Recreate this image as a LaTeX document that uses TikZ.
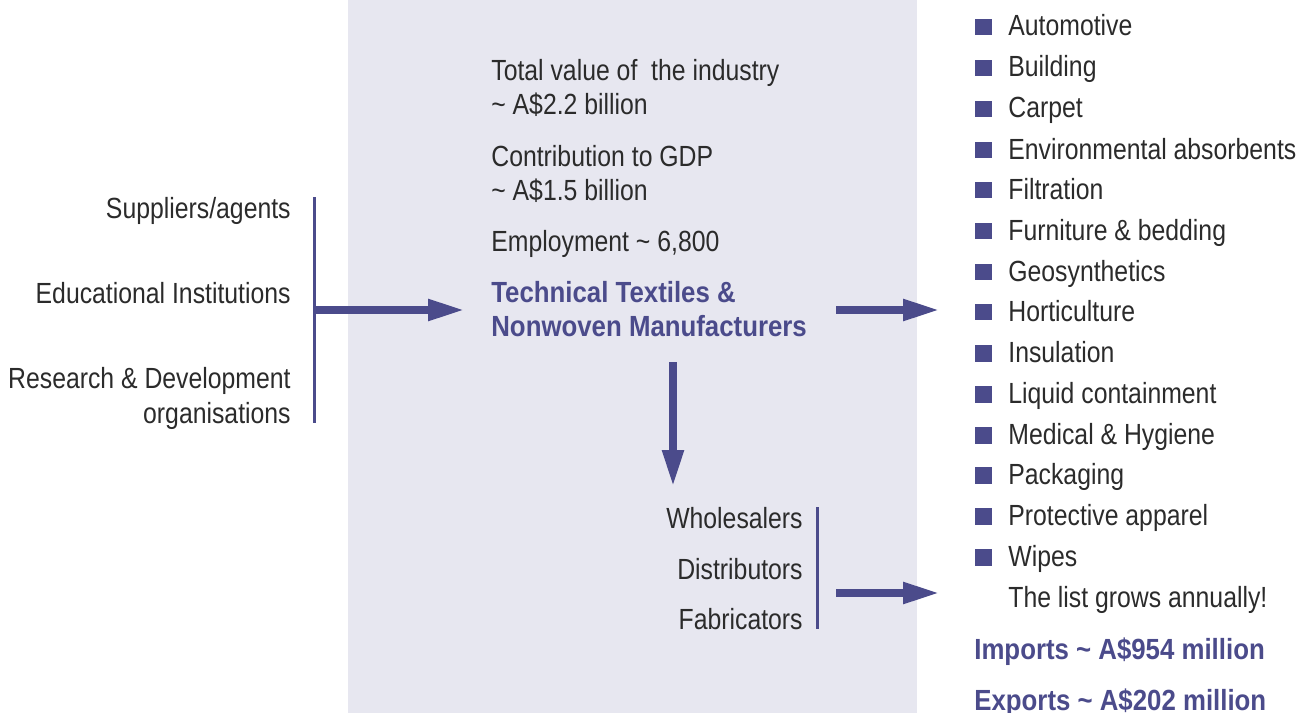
\documentclass[tikz,border=0pt]{standalone}
\usepackage{fontspec}
\setmainfont{Liberation Sans}[FakeStretch=0.85, BoldFeatures={FakeStretch=0.885}]
\usepackage{xcolor}
\usepackage{tikz}
\usetikzlibrary{arrows.meta}
\definecolor{textilecolor}{HTML}{4B4B8B}
\definecolor{panelcolor}{HTML}{E7E7F0}
\definecolor{inkcolor}{HTML}{2B2B2B}

\tikzset{
  txt/.style={inner sep=0pt, text=inkcolor, font=\fontsize{16.6pt}{19.3pt}\selectfont},
  hot/.style={txt, text=textilecolor, font=\fontsize{16.6pt}{19.3pt}\selectfont\bfseries},
  bullet/.style={rectangle, fill=textilecolor, inner sep=0pt, minimum size=0.34cm},
  bracket/.style={draw=textilecolor, line width=0.06cm},
  flowarrow/.style={draw=textilecolor, line width=0.16cm, -{Triangle[length=0.74cm, width=0.4cm]}},
}

\begin{document}
\begin{tikzpicture}[x=0.02cm, y=-0.02cm]%
\useasboundingbox (0,0) rectangle (1302,713);%
\fill[panelcolor] (348,0) rectangle (917,713);%
% sources
\node[txt, anchor=base east] (supp) at (291,218) {Suppliers/agents};%
\node[txt, anchor=base east] (edu) at (291,303) {Educational Institutions};%
\node[txt, anchor=base east, align=right, font=\fontsize{16.6pt}{19.9pt}\selectfont] (rnd) at (291,423) {Research \& Development\\organisations};%
\coordinate (lbartop) at (314,197);%
\coordinate (lbarbot) at (314,423);%
\coordinate (lbarmid) at (314,310);%
\draw[bracket] (lbartop) -- (lbarbot);%
% industry
\node[txt, anchor=base west, align=left] (total) at (491,114) {Total value of \ the industry\\\textasciitilde\ A\$2.2 billion};%
\node[txt, anchor=base west, align=left] (gdp) at (491,200) {Contribution to GDP\\\textasciitilde\ A\$1.5 billion};%
\node[txt, anchor=base west] (employ) at (491,251) {Employment \textasciitilde\ 6,800};%
\node[hot, anchor=base west, align=left] (mfr) at (491,336) {Technical Textiles \&\\Nonwoven Manufacturers};%
\coordinate (mfrin) at (465,310);%
\coordinate (mfrout) at (836,310);%
\coordinate (mfrdown) at (673,362);%
\coordinate (trade) at (673,487);%
\draw[flowarrow] (lbarmid) -- (mfrin);%
\draw[flowarrow] (mfrdown) -- (trade);%
% trade
\node[txt, anchor=base east] (whole) at (803,528) {Wholesalers};%
\node[txt, anchor=base east] (distr) at (803,579) {Distributors};%
\node[txt, anchor=base east] (fabr) at (803,629) {Fabricators};%
\coordinate (rbartop) at (817,507);%
\coordinate (rbarbot) at (817,629);%
\coordinate (rbarout) at (836,593);%
\draw[bracket] (rbartop) -- (rbarbot);%
% markets
\coordinate (mkttop) at (940,310);%
\coordinate (mktbot) at (940,593);%
\draw[flowarrow] (mfrout) -- (mkttop);%
\draw[flowarrow] (rbarout) -- (mktbot);%
\node[bullet] (b1) at (983.5,27) {};%
\node[txt, anchor=base west] (m1) at (1008,36) {Automotive};%
\node[bullet] (b2) at (983.5,68) {};%
\node[txt, anchor=base west] (m2) at (1008,77) {Building};%
\node[bullet] (b3) at (983.5,109) {};%
\node[txt, anchor=base west] (m3) at (1008,118) {Carpet};%
\node[bullet] (b4) at (983.5,150) {};%
\node[txt, anchor=base west] (m4) at (1008,159) {Environmental absorbents};%
\node[bullet] (b5) at (983.5,190) {};%
\node[txt, anchor=base west] (m5) at (1008,199) {Filtration};%
\node[bullet] (b6) at (983.5,231) {};%
\node[txt, anchor=base west] (m6) at (1008,240) {Furniture \& bedding};%
\node[bullet] (b7) at (983.5,272) {};%
\node[txt, anchor=base west] (m7) at (1008,281) {Geosynthetics};%
\node[bullet] (b8) at (983.5,312) {};%
\node[txt, anchor=base west] (m8) at (1008,321) {Horticulture};%
\node[bullet] (b9) at (983.5,353) {};%
\node[txt, anchor=base west] (m9) at (1008,362) {Insulation};%
\node[bullet] (b10) at (983.5,394) {};%
\node[txt, anchor=base west] (m10) at (1008,403) {Liquid containment};%
\node[bullet] (b11) at (983.5,435) {};%
\node[txt, anchor=base west] (m11) at (1008,444) {Medical \& Hygiene};%
\node[bullet] (b12) at (983.5,475) {};%
\node[txt, anchor=base west] (m12) at (1008,484) {Packaging};%
\node[bullet] (b13) at (983.5,516) {};%
\node[txt, anchor=base west] (m13) at (1008,525) {Protective apparel};%
\node[bullet] (b14) at (983.5,557) {};%
\node[txt, anchor=base west] (m14) at (1008,566) {Wipes};%
\node[txt, anchor=base west] (grows) at (1008,607) {The list grows annually!};%
\node[hot, anchor=base west] (imports) at (974,659) {Imports \textasciitilde\ A\$954 million};%
\node[hot, anchor=base west] (exports) at (974,710) {Exports \textasciitilde\ A\$202 million};%
\end{tikzpicture}
\end{document}
